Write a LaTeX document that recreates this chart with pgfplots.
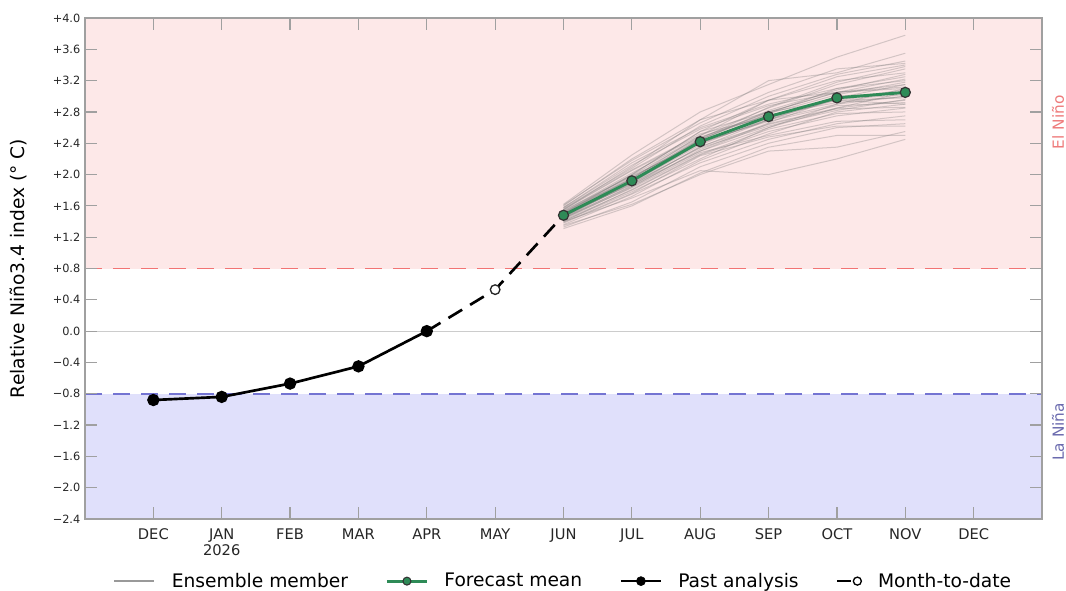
\documentclass[border=0pt]{standalone}
\usepackage{pgfplots}
\pgfplotsset{compat=1.18}
\usepackage{fontspec}
\setmainfont{DejaVu Sans}
\definecolor{ninobg}{HTML}{FDE8E8}
\definecolor{ninabg}{HTML}{E0E0FB}
\definecolor{ninoline}{HTML}{F27474}
\definecolor{ninaline}{HTML}{7474D2}
\definecolor{ninotext}{HTML}{EE7B7B}
\definecolor{ninatext}{HTML}{6A6AAE}
\definecolor{fcgreen}{HTML}{2E8B57}
\definecolor{axgray}{HTML}{A0A0A0}
\begin{document}
\begin{tikzpicture}
\useasboundingbox (-63.75pt,-53.25pt) rectangle (735.75pt,389.25pt);
\begin{axis}[
  at={(0,0)}, anchor=south west,
  scale only axis, width=717.75pt, height=375.75pt,
  xmin=-1, xmax=13, ymin=-2.4, ymax=4.0,
  clip mode=individual,
  xtick={0,1,2,3,4,5,6,7,8,9,10,11,12},
  xticklabels={DEC,{JAN\\2026},FEB,MAR,APR,MAY,JUN,JUL,AUG,SEP,OCT,NOV,DEC},
  xticklabel style={align=center, font=\fontsize{11}{12}\selectfont, text=black!85, yshift=-4pt},
  ytick={-2.4,-2.0,-1.6,-1.2,-0.8,-0.4,0,0.4,0.8,1.2,1.6,2.0,2.4,2.8,3.2,3.6,4.0},
  yticklabels={−2.4,−2.0,−1.6,−1.2,−0.8,−0.4,0.0,+0.4,+0.8,+1.2,+1.6,+2.0,+2.4,+2.8,+3.2,+3.6,+4.0},
  yticklabel style={font=\fontsize{8.5}{10}\selectfont, text=black!85},
  tick align=inside, major tick length=9pt,
  tick style={axgray, line width=0.9pt},
  axis line style={axgray, line width=0.9pt},
  axis on top,
  ylabel={Relative Niño3.4 index (° C)},
  every axis y label/.style={at={(axis description cs:-0.070,0.5)}, rotate=90, anchor=center, font=\fontsize{14}{16}\selectfont},
  legend style={at={(axis description cs:0.5,-0.124)}, anchor=center, legend columns=4, draw=none, fill=none,
    font=\fontsize{14}{16}\selectfont,
    /tikz/every odd column/.append style={column sep=10pt},
    /tikz/every even column/.append style={column sep=26pt}},
  legend cell align=left,
  ens/.style={black!55, opacity=0.3, line width=0.75pt, forget plot},
]
% background regions
\addplot[draw=none, fill=ninobg, forget plot] coordinates {(-1,0.8) (13,0.8) (13,4.0) (-1,4.0)} -- cycle;
\addplot[draw=none, fill=ninabg, forget plot] coordinates {(-1,-2.4) (13,-2.4) (13,-0.8) (-1,-0.8)} -- cycle;
\addplot[ninoline, line width=1.2pt, dash pattern=on 13pt off 8pt, forget plot] coordinates {(-1,0.8) (13,0.8)};
\addplot[ninaline, line width=1.2pt, dash pattern=on 13pt off 8pt, forget plot] coordinates {(-1,-0.8) (13,-0.8)};
\addplot[black!20, line width=0.9pt, forget plot] coordinates {(-1,0) (13,0)};
% ensemble members (JUN..NOV)
\addplot[ens] coordinates {(6,1.62) (7,2.25) (8,2.80) (9,3.15) (10,3.50) (11,3.78)};
\addplot[ens] coordinates {(6,1.55) (7,2.10) (8,2.70) (9,3.20) (10,3.30) (11,3.55)};
\addplot[ens] coordinates {(6,1.50) (7,2.00) (8,2.55) (9,2.95) (10,3.25) (11,3.40)};
\addplot[ens] coordinates {(6,1.45) (7,1.85) (8,2.30) (9,2.60) (10,2.85) (11,2.95)};
\addplot[ens] coordinates {(6,1.40) (7,1.70) (8,2.05) (9,2.00) (10,2.20) (11,2.45)};
\addplot[ens] coordinates {(6,1.35) (7,1.62) (8,2.00) (9,2.30) (10,2.35) (11,2.55)};
\addplot[ens] coordinates {(6,1.52) (7,1.95) (8,2.45) (9,2.80) (10,3.05) (11,3.15)};
\addplot[ens] coordinates {(6,1.48) (7,1.90) (8,2.40) (9,2.70) (10,2.90) (11,3.00)};
\addplot[ens] coordinates {(6,1.58) (7,2.15) (8,2.60) (9,2.90) (10,3.10) (11,3.20)};
\addplot[ens] coordinates {(6,1.42) (7,1.80) (8,2.25) (9,2.55) (10,2.75) (11,2.85)};
\addplot[ens] coordinates {(6,1.38) (7,1.75) (8,2.15) (9,2.45) (10,2.65) (11,2.75)};
\addplot[ens] coordinates {(6,1.55) (7,2.05) (8,2.50) (9,2.85) (10,3.15) (11,3.35)};
\addplot[ens] coordinates {(6,1.47) (7,1.88) (8,2.35) (9,2.70) (10,3.00) (11,3.05)};
\addplot[ens] coordinates {(6,1.50) (7,1.95) (8,2.50) (9,2.95) (10,3.20) (11,3.30)};
\addplot[ens] coordinates {(6,1.44) (7,1.83) (8,2.28) (9,2.50) (10,2.68) (11,2.70)};
\addplot[ens] coordinates {(6,1.60) (7,2.20) (8,2.70) (9,2.95) (10,3.05) (11,3.10)};
\addplot[ens] coordinates {(6,1.33) (7,1.65) (8,2.10) (9,2.40) (10,2.60) (11,2.65)};
\addplot[ens] coordinates {(6,1.46) (7,1.92) (8,2.45) (9,2.78) (10,3.10) (11,3.25)};
\addplot[ens] coordinates {(6,1.52) (7,2.00) (8,2.55) (9,2.80) (10,2.95) (11,2.90)};
\addplot[ens] coordinates {(6,1.49) (7,1.87) (8,2.30) (9,2.65) (10,2.85) (11,3.05)};
\addplot[ens] coordinates {(6,1.41) (7,1.78) (8,2.20) (9,2.60) (10,2.90) (11,3.10)};
\addplot[ens] coordinates {(6,1.57) (7,2.08) (8,2.62) (9,3.00) (10,3.28) (11,3.45)};
\addplot[ens] coordinates {(6,1.45) (7,1.90) (8,2.38) (9,2.72) (10,2.95) (11,2.98)};
\addplot[ens] coordinates {(6,1.36) (7,1.72) (8,2.18) (9,2.52) (10,2.80) (11,2.90)};
\addplot[ens] coordinates {(6,1.53) (7,2.02) (8,2.48) (9,2.76) (10,2.92) (11,3.00)};
\addplot[ens] coordinates {(6,1.50) (7,1.97) (8,2.42) (9,2.68) (10,2.88) (11,2.92)};
\addplot[ens] coordinates {(6,1.43) (7,1.84) (8,2.32) (9,2.66) (10,2.98) (11,3.15)};
\addplot[ens] coordinates {(6,1.58) (7,2.12) (8,2.58) (9,2.88) (10,3.05) (11,3.12)};
\addplot[ens] coordinates {(6,1.39) (7,1.76) (8,2.24) (9,2.48) (10,2.62) (11,2.62)};
\addplot[ens] coordinates {(6,1.47) (7,1.93) (8,2.44) (9,2.82) (10,3.08) (11,3.28)};
\addplot[ens] coordinates {(6,1.54) (7,1.98) (8,2.40) (9,2.70) (10,2.97) (11,3.08)};
\addplot[ens] coordinates {(6,1.31) (7,1.60) (8,2.02) (9,2.35) (10,2.50) (11,2.50)};
\addplot[ens] coordinates {(6,1.49) (7,1.95) (8,2.46) (9,2.86) (10,3.18) (11,3.38)};
\addplot[ens] coordinates {(6,1.44) (7,1.86) (8,2.36) (9,2.64) (10,2.84) (11,2.86)};
\addplot[ens] coordinates {(6,1.56) (7,2.06) (8,2.52) (9,2.74) (10,2.96) (11,3.02)};
\addplot[ens] coordinates {(6,1.48) (7,1.91) (8,2.40) (9,2.78) (10,3.02) (11,3.18)};
\addplot[ens] coordinates {(6,1.40) (7,1.81) (8,2.26) (9,2.58) (10,2.78) (11,2.80)};
\addplot[ens] coordinates {(6,1.61) (7,2.18) (8,2.66) (9,3.05) (10,3.35) (11,3.42)};
\addplot[ens] coordinates {(6,1.46) (7,1.89) (8,2.34) (9,2.62) (10,2.82) (11,2.96)};
\addplot[ens] coordinates {(6,1.51) (7,1.99) (8,2.47) (9,2.80) (10,3.05) (11,3.22)};
% month-to-date
\addplot[black, line width=2pt, dash pattern=on 12pt off 7pt, forget plot] coordinates {(4,0.0) (5,0.53) (6,1.48)};
\addplot[only marks, mark=*, mark size=3.6pt, mark options={fill=white, draw=black!85, line width=1pt}, forget plot] coordinates {(5,0.53)};
% past analysis
\addplot[black, line width=2pt, mark=*, mark size=3.6pt, forget plot] coordinates {(0,-0.88) (1,-0.84) (2,-0.67) (3,-0.45) (4,0.0)};
% forecast mean
\addplot[fcgreen, line width=2.2pt, mark=*, mark size=3.8pt, mark options={fill=fcgreen, draw=black!80, line width=0.9pt}, forget plot] coordinates {(6,1.48) (7,1.92) (8,2.42) (9,2.74) (10,2.98) (11,3.05)};
% labels
\node[rotate=90, anchor=center, text=ninotext, font=\fontsize{11.5}{13}\selectfont] at (axis description cs:1.0167,0.792) {El Niño};
\node[rotate=90, anchor=center, text=ninatext, font=\fontsize{11.5}{13}\selectfont] at (axis description cs:1.0167,0.174) {La Niña};
% legend
\addlegendimage{legend image code/.code={\draw[black!40, line width=2pt] (0pt,0pt) -- (30pt,0pt);}}
\addlegendentry{Ensemble member}
\addlegendimage{legend image code/.code={\draw[fcgreen, line width=2.2pt] (0pt,0pt) -- (30pt,0pt); \draw[fill=fcgreen, draw=black!80, line width=0.8pt] (15pt,0pt) circle (3pt);}}
\addlegendentry{Forecast mean}
\addlegendimage{legend image code/.code={\draw[black, line width=2pt] (0pt,0pt) -- (30pt,0pt); \fill[black] (15pt,0pt) circle (3.4pt);}}
\addlegendentry{Past analysis}
\addlegendimage{legend image code/.code={\draw[black, line width=2pt] (0pt,0pt) -- (10pt,0pt); \draw[black, line width=1pt, fill=white] (15pt,0pt) circle (3pt);}}
\addlegendentry{Month-to-date}
\end{axis}
\end{tikzpicture}
\end{document}
